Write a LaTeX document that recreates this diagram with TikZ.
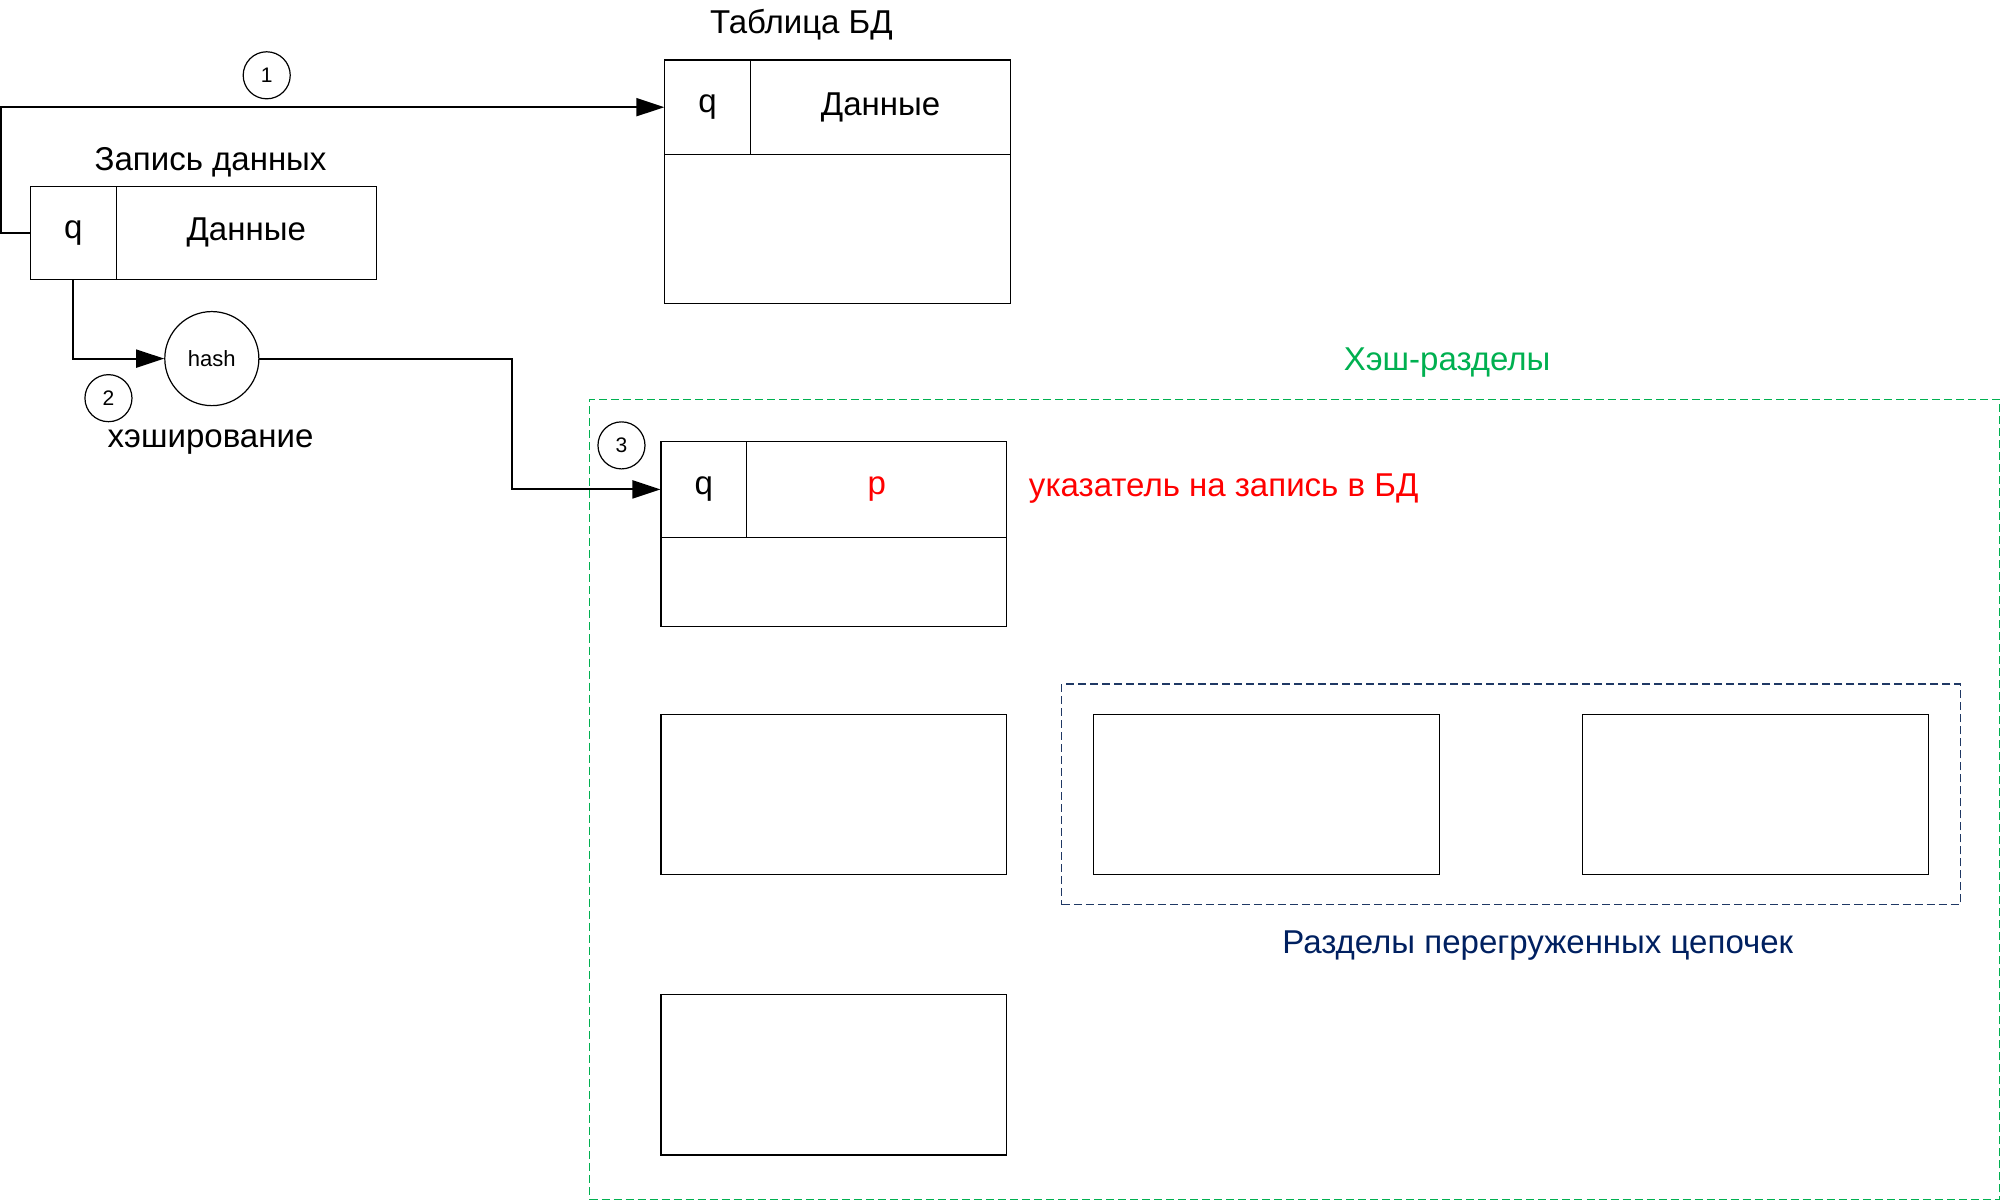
\documentclass[tikz,border=0pt]{standalone}
\usepackage{fontspec}
\setmainfont{Liberation Sans}
\usetikzlibrary{fit,arrows.meta}
\definecolor{hgreen}{RGB}{0,176,80}
\definecolor{hblue}{RGB}{0,32,96}
\definecolor{bluebox}{RGB}{31,56,100}
\begin{document}
\begin{tikzpicture}[x=0.6375pt,y=-0.6375pt,
  cell/.style={draw,line width=0.6pt,inner sep=0pt},
  lbl/.style={inner sep=0pt,font=\fontsize{16.5}{20}\selectfont},
  num/.style={draw,circle,line width=0.6pt,minimum size=23.5pt,inner sep=0pt,font=\fontsize{10.5}{12}\selectfont},
  arr/.style={line width=1pt,-{Triangle[length=14pt,width=9pt]}},
  ln/.style={line width=1pt}]
\useasboundingbox (0,0) rectangle (1568,941.1);
% Record
\node[lbl] (reclbl) at (165,127) {Запись данных};
\node[cell,fit={(24,146) (91,219)},label={[lbl]center:q}] (recq) {};
\node[cell,fit={(91,146) (295,219)},label={[lbl]center:Данные}] (recd) {};
% Table
\node[lbl] (tbllbl) at (628,19) {Таблица БД};
\node[cell,fit={(521,47) (588,121)},label={[lbl]center:q}] (tq) {};
\node[cell,fit={(588,47) (792,121)},label={[lbl]center:Данные}] (td) {};
\node[cell,fit={(521,121) (792,238)}] (tbot) {};
% Hash
\node[draw,circle,line width=0.6pt,minimum size=47pt,inner sep=0pt,font=\fontsize{11}{13}\selectfont] (hash) at (166,281) {hash};
\node[lbl] (hashlbl) at (165,346) {хэширование};
% Green partition
\node[draw=hgreen,dash pattern=on 4pt off 2pt,line width=0.6pt,inner sep=0pt,fit={(462,313) (1567,940)}] (green) {};
\node[lbl,text=hgreen] (greenlbl) at (1134,284) {Хэш-разделы};
\node[cell,fit={(518,346) (585,421)},label={[lbl]center:q}] (hq) {};
\node[cell,fit={(585,346) (789,421)},label={[lbl,text=red]center:p}] (hp) {};
\node[cell,fit={(518,421) (789,491)}] (hbot) {};
\node[lbl,text=red,anchor=west] (ptrlbl) at (806,383) {указатель на запись в БД};
\node[cell,fit={(518,560) (789,685)}] (b2) {};
\node[cell,fit={(518,779) (789,905)}] (b3) {};
% Blue overflow
\node[draw=bluebox,dash pattern=on 4pt off 2pt,line width=0.6pt,inner sep=0pt,fit={(832,536) (1536,709)}] (blue) {};
\node[cell,fit={(857,560) (1128,685)}] (c1) {};
\node[cell,fit={(1240,560) (1511,685)}] (c2) {};
\node[lbl,text=hblue] (bluelbl) at (1205,741) {Разделы перегруженных цепочек};
% Numbers
\node[num] (n1) at (209,59) {1};
\node[num] (n2) at (85,312) {2};
\node[num] (n3) at (487,349) {3};
% Connectors
\draw[arr] (recq.west) -- ++(-23,0) |- (tq.west);
\draw[arr] (recq.south) |- (hash.west);
\draw[arr] (hash.east) -- ++(198,0) |- (hq.west);
\end{tikzpicture}
\end{document}
